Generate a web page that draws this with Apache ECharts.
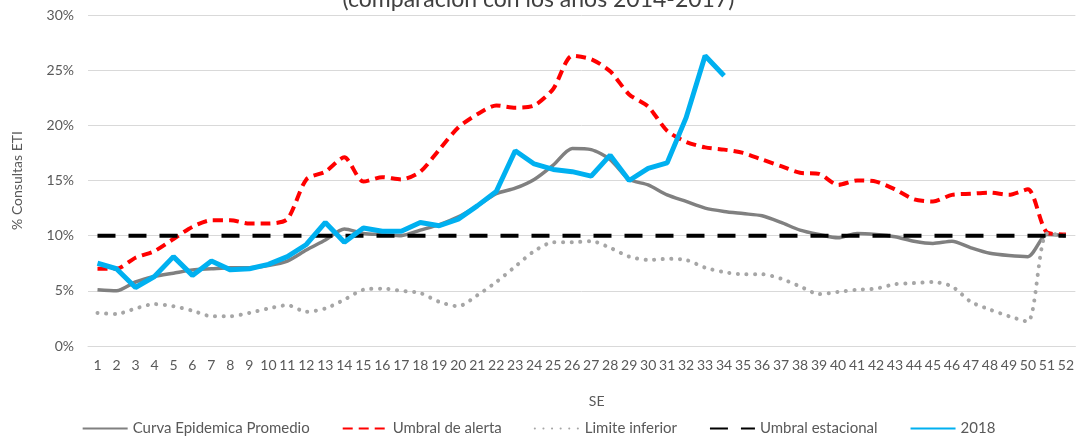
<!DOCTYPE html>
<html lang="es">
<head>
	<meta charset="UTF-8">
	<title>Consultas ETI</title>
	<script src="https://cdn.jsdelivr.net/npm/echarts@6/dist/echarts.min.js"></script>
	<style>
		html, body { margin: 0; padding: 0; background: #fff; }
		#chart { width: 1077px; height: 443px; }
	</style>
</head>
<body>
<div id="chart"></div>
<script>
	// semanas epidemiologicas
	var semanas = ['1','2','3','4','5','6','7','8','9','10','11','12','13','14','15','16','17','18','19','20',
		'21','22','23','24','25','26','27','28','29','30','31','32','33','34','35','36','37','38','39','40',
		'41','42','43','44','45','46','47','48','49','50','51','52'];

	var curvaPromedio = [5.1,5.0,5.8,6.3,6.6,6.9,7.0,7.1,7.1,7.3,7.7,8.7,9.6,10.6,10.2,10.1,10.0,10.5,11.0,11.7,
		12.7,13.8,14.3,15.1,16.4,17.9,17.8,16.9,15.1,14.6,13.7,13.1,12.5,12.2,12.0,11.8,11.2,10.5,10.1,9.8,
		10.2,10.1,9.9,9.5,9.3,9.5,8.9,8.4,8.2,8.1,10.1,10.0];

	var umbralAlerta = [7.0,7.0,8.0,8.6,9.7,10.8,11.4,11.4,11.1,11.1,11.5,15.1,15.8,17.1,14.9,15.3,15.1,15.8,17.8,19.8,
		21.0,21.8,21.6,21.8,23.3,26.3,26.0,24.9,22.8,21.7,19.5,18.5,18.0,17.8,17.5,16.9,16.3,15.7,15.6,14.6,
		15.0,14.9,14.2,13.3,13.1,13.7,13.8,13.9,13.7,14.2,10.3,10.1];

	var limiteInferior = [3.0,2.9,3.4,3.8,3.6,3.2,2.7,2.7,3.0,3.4,3.7,3.1,3.4,4.2,5.1,5.2,5.0,4.8,4.0,3.6,
		4.6,5.8,7.2,8.6,9.4,9.4,9.5,8.9,8.1,7.8,7.9,7.8,7.1,6.7,6.5,6.5,6.1,5.4,4.7,4.9,
		5.1,5.2,5.6,5.7,5.8,5.4,4.0,3.3,2.7,2.2,10.2,10.0];

	var umbralEstacional = [10,10,10,10,10,10,10,10,10,10,10,10,10,10,10,10,10,10,10,10,
		10,10,10,10,10,10,10,10,10,10,10,10,10,10,10,10,10,10,10,10,
		10,10,10,10,10,10,10,10,10,10,10,10];

	var anio2018 = [7.5,7.0,5.3,6.3,8.1,6.4,7.7,6.9,7.0,7.4,8.1,9.2,11.2,9.4,10.7,10.4,10.4,11.2,10.9,11.5,
		12.7,14.0,17.7,16.5,16.0,15.8,15.4,17.3,15.0,16.1,16.6,20.7,26.3,24.5];

	var fuente = 'Lato, "Open Sans", sans-serif';
	var gris = '#595959';

	var chart = echarts.init(document.getElementById('chart'));
	chart.setOption({
		animation: false,
		textStyle: { fontFamily: fuente },
		title: {
			text: '(comparación con los años 2014-2017)',
			left: 'center',
			top: -17,
			textStyle: { fontSize: 23, fontWeight: 'normal', color: '#404040', fontFamily: fuente }
		},
		grid: { left: 88, right: 1, top: 15, bottom: 97, containLabel: false },
		legend: {
			bottom: 2,
			left: 'center',
			itemWidth: 45,
			itemHeight: 10,
			itemGap: 32,
			itemStyle: { opacity: 0 },
			textStyle: { fontSize: 15, color: gris, fontFamily: fuente },
			data: ['Curva Epidemica Promedio', 'Umbral de alerta', 'Limite inferior', 'Umbral estacional', '2018']
		},
		xAxis: {
			type: 'category',
			data: semanas,
			boundaryGap: true,
			name: 'SE',
			nameLocation: 'middle',
			nameGap: 48,
			nameTextStyle: { fontSize: 14, color: gris, padding: [0, 0, 0, 30] },
			axisLine: { lineStyle: { color: '#d9d9d9', width: 1 } },
			axisTick: { show: false },
			axisLabel: { interval: 0, hideOverlap: false, margin: 12, fontSize: 14, color: gris }
		},
		yAxis: {
			type: 'value',
			min: 0,
			max: 30,
			interval: 5,
			name: '% Consultas ETI',
			nameLocation: 'middle',
			nameGap: 64,
			nameTextStyle: { fontSize: 14, color: gris },
			axisLine: { show: false },
			axisTick: { show: false },
			axisLabel: { formatter: '{value}%', margin: 14, fontSize: 14, color: gris },
			splitLine: { lineStyle: { color: '#d9d9d9', width: 1 } }
		},
		series: [
			{
				name: 'Curva Epidemica Promedio',
				type: 'line',
				data: curvaPromedio,
				symbol: 'none',
				smooth: 0.25,
				lineStyle: { color: '#808080', width: 3.5 },
				itemStyle: { color: '#808080' }
			},
			{
				name: 'Umbral de alerta',
				type: 'line',
				data: umbralAlerta,
				symbol: 'none',
				smooth: 0.25,
				lineStyle: { color: '#ff0000', width: 4, type: [10, 6] },
				itemStyle: { color: '#ff0000' }
			},
			{
				name: 'Limite inferior',
				type: 'line',
				data: limiteInferior,
				symbol: 'none',
				smooth: 0.25,
				lineStyle: { color: '#a6a6a6', width: 4, type: [0.1, 8.5], cap: 'round' },
				itemStyle: { color: '#a6a6a6' }
			},
			{
				name: 'Umbral estacional',
				type: 'line',
				data: umbralEstacional,
				symbol: 'none',
				lineStyle: { color: '#000000', width: 4, type: [18, 13] },
				itemStyle: { color: '#000000' }
			},
			{
				name: '2018',
				type: 'line',
				data: anio2018,
				symbol: 'none',
				lineStyle: { color: '#00b0f0', width: 5 },
				itemStyle: { color: '#00b0f0' }
			}
		]
	});
</script>
</body>
</html>
